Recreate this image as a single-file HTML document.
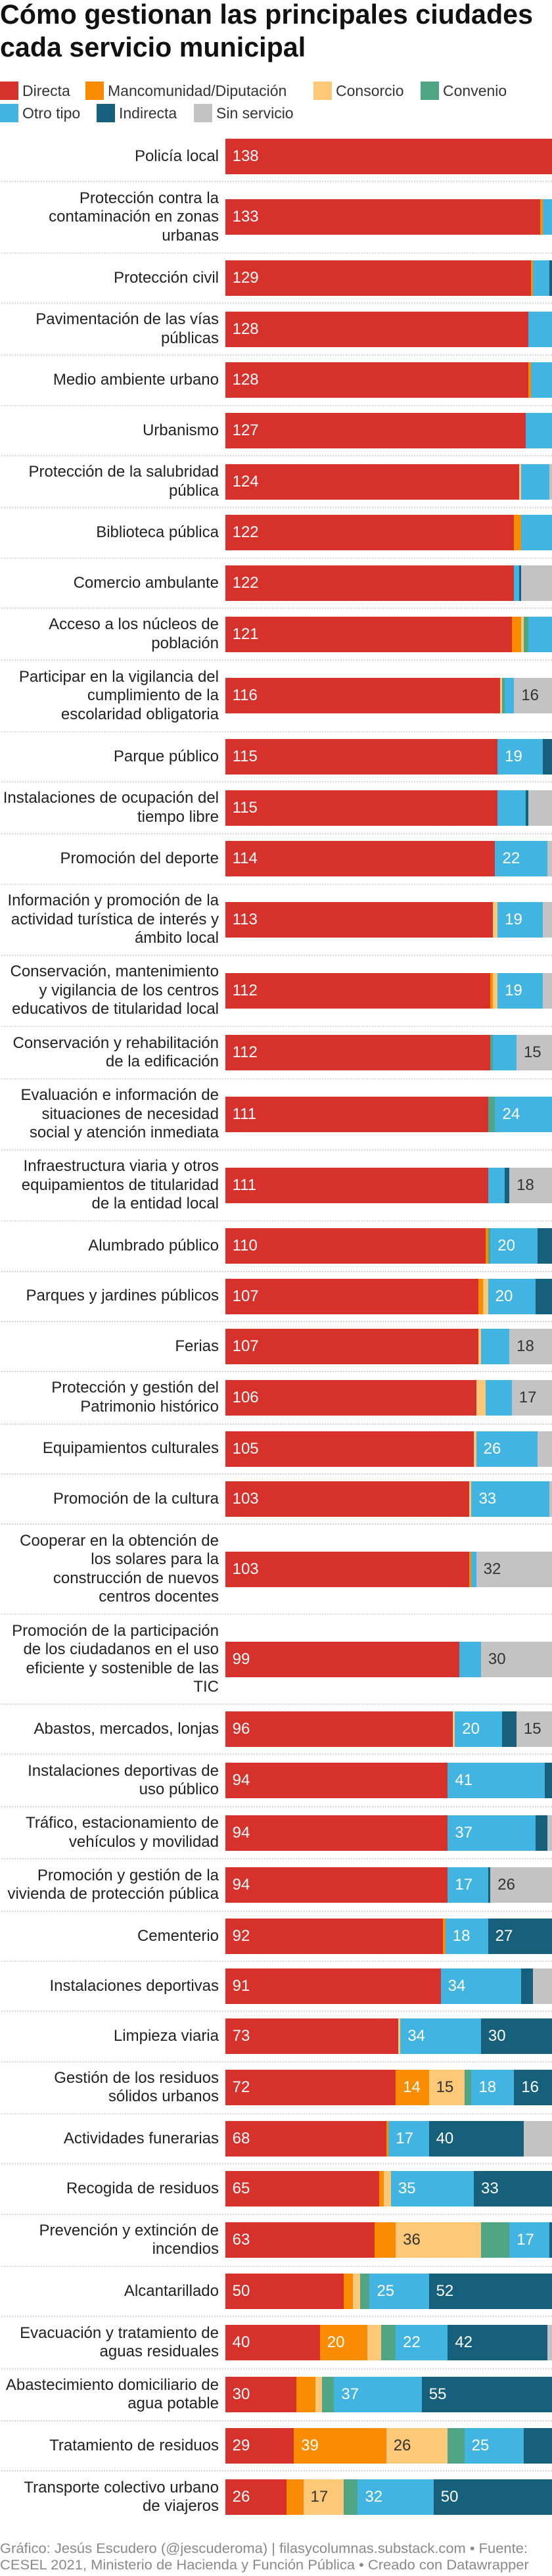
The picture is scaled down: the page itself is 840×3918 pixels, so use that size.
<!DOCTYPE html>
<html><head><meta charset="utf-8">
<style>
html,body{margin:0;padding:0;background:#fff;}
body{width:840px;height:3918px;position:relative;overflow:hidden;font-family:"Liberation Sans Narrow","Liberation Sans",sans-serif;color:#222;}
#title{position:absolute;left:0;top:-3px;font-weight:bold;font-size:42px;line-height:50px;color:#111;white-space:nowrap;}
#title span{display:block;transform-origin:0 50%;}
.leg{position:absolute;display:flex;align-items:center;font-size:23px;color:#333;white-space:nowrap;}
.sw{width:28px;height:28px;margin-right:6px;flex:none;}
.legtxt{display:inline-block;transform-origin:0 50%;}
#chart{position:absolute;left:0;top:0;width:840px;height:3918px;}
.lbl{position:absolute;left:0;width:333px;text-align:right;font-size:24px;line-height:28.4px;color:#222;white-space:nowrap;transform-origin:100% 50%;}
.seg{position:absolute;height:54px;}
.val{position:absolute;font-size:24px;line-height:54px;white-space:nowrap;transform-origin:0 50%;}
.sep{position:absolute;left:2px;width:838px;height:0;border-top:2px dotted #d8d8d8;}
#foot{position:absolute;left:0;top:3864px;font-size:21px;line-height:25px;color:#8a8a8a;white-space:nowrap;}
#foot span{display:block;transform-origin:0 50%;}
</style></head>
<body>
<div id="title"><span id="t1">Cómo gestionan las principales ciudades</span><span id="t2">cada servicio municipal</span></div>
<div id="legend">
<div class="leg" style="left:0;top:124px"><div class="sw" style="background:#d7312c"></div><span class="legtxt">Directa</span></div>
<div class="leg" style="left:130px;top:124px"><div class="sw" style="background:#f98c00"></div><span class="legtxt">Mancomunidad/Diputación</span></div>
<div class="leg" style="left:477px;top:124px"><div class="sw" style="background:#fdc978"></div><span class="legtxt">Consorcio</span></div>
<div class="leg" style="left:640px;top:124px"><div class="sw" style="background:#50a684"></div><span class="legtxt">Convenio</span></div>
<div class="leg" style="left:0;top:158px"><div class="sw" style="background:#42b4e2"></div><span class="legtxt">Otro tipo</span></div>
<div class="leg" style="left:147px;top:158px"><div class="sw" style="background:#17607b"></div><span class="legtxt">Indirecta</span></div>
<div class="leg" style="left:295px;top:158px"><div class="sw" style="background:#c3c3c3"></div><span class="legtxt">Sin servicio</span></div>
</div>
<div id="chart"></div>
<div id="foot"><span id="f1">Gráfico: Jesús Escudero (@jescuderoma) | filasycolumnas.substack.com • Fuente:</span><span id="f2">CESEL 2021, Ministerio de Hacienda y Función Pública • Creado con Datawrapper</span></div>
<script>
const categories = [
"Policía local","Protección contra la|contaminación en zonas|urbanas","Protección civil","Pavimentación de las vías|públicas","Medio ambiente urbano","Urbanismo","Protección de la salubridad|pública","Biblioteca pública","Comercio ambulante","Acceso a los núcleos de|población","Participar en la vigilancia del|cumplimiento de la|escolaridad obligatoria","Parque público","Instalaciones de ocupación del|tiempo libre","Promoción del deporte","Información y promoción de la|actividad turística de interés y|ámbito local","Conservación, mantenimiento|y vigilancia de los centros|educativos de titularidad local","Conservación y rehabilitación|de la edificación","Evaluación e información de|situaciones de necesidad|social y atención inmediata","Infraestructura viaria y otros|equipamientos de titularidad|de la entidad local","Alumbrado público","Parques y jardines públicos","Ferias","Protección y gestión del|Patrimonio histórico","Equipamientos culturales","Promoción de la cultura","Cooperar en la obtención de|los solares para la|construcción de nuevos|centros docentes","Promoción de la participación|de los ciudadanos en el uso|eficiente y sostenible de las|TIC","Abastos, mercados, lonjas","Instalaciones deportivas de|uso público","Tráfico, estacionamiento de|vehículos y movilidad","Promoción y gestión de la|vivienda de protección pública","Cementerio","Instalaciones deportivas","Limpieza viaria","Gestión de los residuos|sólidos urbanos","Actividades funerarias","Recogida de residuos","Prevención y extinción de|incendios","Alcantarillado","Evacuación y tratamiento de|aguas residuales","Abastecimiento domiciliario de|agua potable","Tratamiento de residuos","Transporte colectivo urbano|de viajeros"];
const directa =       [138,133,129,128,128,127,124,122,122,121,116,115,115,114,113,112,112,111,111,110,107,107,106,105,103,103,99,96,94,94,94,92,91,73,72,68,65,63,50,40,30,29,26];
const mancomunidad =  [0,1,1,0,1,0,0,3,0,4,0,0,0,0,0,1,0,0,0,1,2,0,0,0,0,1,0,0,0,0,0,1,0,0,14,1,2,9,4,20,8,39,7];
const consorcio =     [0,0,0,0,0,0,1,0,0,1,1,0,0,0,2,2,0,0,0,0,2,1,4,1,1,0,0,1,0,0,0,0,0,1,15,0,3,36,3,6,3,26,17];
const convenio =      [0,0,0,0,0,0,0,0,0,2,1,0,0,0,0,0,1,3,0,1,0,0,0,0,0,0,0,0,0,0,0,0,0,0,3,0,0,12,4,6,5,7,6];
const otroTipo =      [0,4,7,10,9,11,12,13,2,10,4,19,12,22,19,19,10,24,7,20,20,12,11,26,33,2,9,20,41,37,17,18,34,34,18,17,35,17,25,22,37,25,32];
const indirecta =     [0,0,1,0,0,0,0,0,1,0,0,4,1,0,0,0,0,0,2,6,7,0,0,0,0,0,0,6,3,5,1,27,5,30,16,40,33,1,52,42,55,12,50];
const sinServicio =   [0,0,0,0,0,0,1,0,13,0,16,0,10,2,4,4,15,0,18,0,0,18,17,6,1,32,30,15,0,2,26,0,8,0,0,12,0,0,0,2,0,0,0];
const seriesNames = ["directa","mancomunidad","consorcio","convenio","otro-tipo","indirecta","sin-servicio"];
const seriesColors = ["#d7312c","#f98c00","#fdc978","#50a684","#42b4e2","#17607b","#c3c3c3"];
const seriesText = ["#fff","#fff","#333","#fff","#fff","#fff","#333"];
const allSeries = [directa,mancomunidad,consorcio,convenio,otroTipo,indirecta,sinServicio];

// condensation factor (if narrow font unavailable)
function fitW(el, target){ const w = el.getBoundingClientRect().width; const r = target / w; el.style.transform = 'scaleX(' + r + ')'; return r; }
document.getElementById('t1').style.display='inline-block';
document.getElementById('t2').style.display='inline-block';
const ratio = fitW(document.getElementById('t1'), 811);
document.getElementById('t2').style.transform = 'scaleX(' + ratio + ')';
document.getElementById('t1').style.display='block';
document.getElementById('t2').style.display='block';
document.getElementById('f1').style.display='inline-block';
const fr = fitW(document.getElementById('f1'), 803);
document.getElementById('f1').style.display='block';
document.getElementById('f2').style.transform = 'scaleX(' + fr + ')';
const cr = Math.min(1, fr);
document.querySelectorAll('.legtxt').forEach(e => { e.style.transform = 'scaleX(' + cr + ')'; });

const chart = document.getElementById('chart');
const X0 = 342.6, X1 = 840;
function xScale(v){ const total = 138; return X0 + (X1 - X0) * v / total; }
const rowH = {1:76.3,2:79.4,3:108.3,4:137};
let y = 200;
categories.forEach((cat, i) => {
  const lines = cat.split('|');
  const h = rowH[lines.length];
  const mid = y + h/2;
  const lbl = document.createElement('div');
  lbl.className = 'lbl';
  
  
  lbl.innerHTML = lines.join('<br>');
  lbl.style.top = (mid - lines.length*28.4/2) + 'px';
  lbl.style.transform = 'scaleX(' + cr + ')';
  chart.appendChild(lbl);
  let cum = 0;
  allSeries.forEach((s, k) => {
    const v = s[i];
    if (!v) return;
    const a = xScale(cum), b = xScale(cum + v);
    const seg = document.createElement('div');
    seg.className = 'seg';
    
    
    seg.style.left = a + 'px';
    seg.style.width = (b - a) + 'px';
    seg.style.top = (mid - 27) + 'px';
    seg.style.background = seriesColors[k];
    chart.appendChild(seg);
    if (v >= 14) {
      const t = document.createElement('div');
      t.className = 'val';
      
      
      t.textContent = v;
      t.style.left = (a + 11) + 'px';
      t.style.top = (mid - 27) + 'px';
      t.style.color = seriesText[k];
      t.style.transform = 'scaleX(' + cr + ')';
      chart.appendChild(t);
    }
    cum += v;
  });
  y += h;
  if (i < categories.length - 1) {
    const sp = document.createElement('div');
    sp.className = 'sep';
    
    
    sp.style.top = (y - 1) + 'px';
    chart.appendChild(sp);
  }
});
</script>
</body></html>
